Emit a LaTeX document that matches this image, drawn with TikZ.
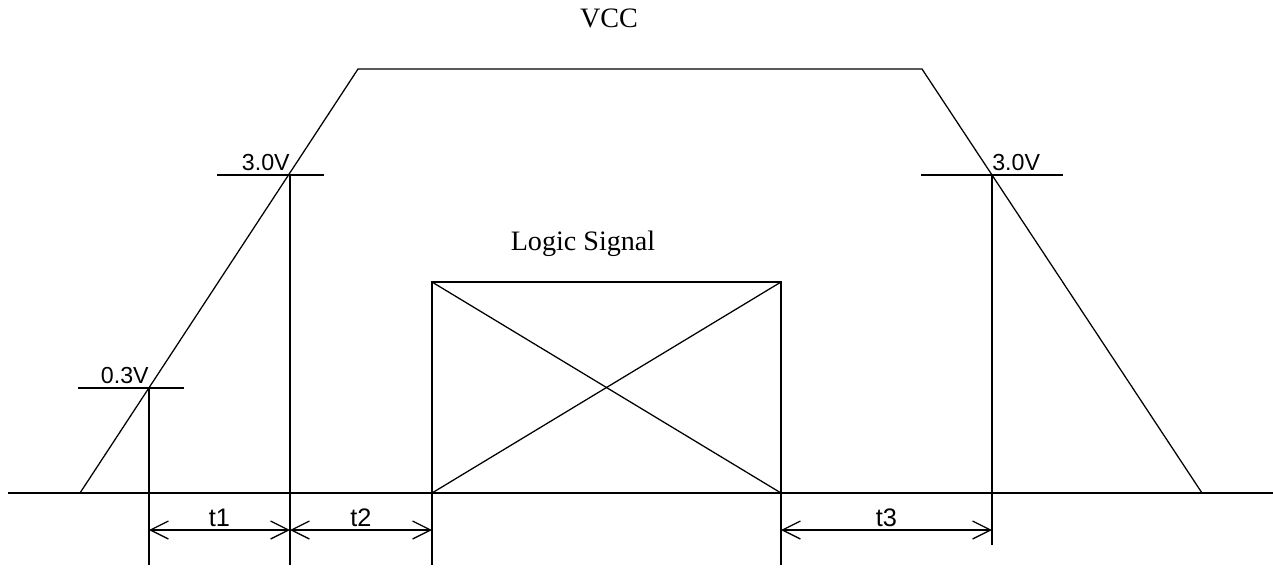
\documentclass[tikz,border=0pt]{standalone}
\usepackage{fontspec}
\setmainfont{Liberation Serif}
\newfontfamily\lblfont{Liberation Sans}
\usetikzlibrary{arrows.meta,positioning}

\begin{document}
\begin{tikzpicture}[x=0.025cm,y=-0.025cm]
\tikzset{
  wave/.style={line width=0.9pt},
  axisline/.style={line width=1.2pt},
  levelline/.style={line width=1pt},
  extline/.style={line width=1pt},
  dimarrow/.style={{Straight Barb[length=4.5mm,width=4.5mm]}-{Straight Barb[length=4.5mm,width=4.5mm]},line width=0.9pt},
  vlabel/.style={inner sep=0pt,font=\lblfont\fontsize{16.5}{19}\selectfont},
  dimlabel/.style={inner sep=2pt,above,font=\lblfont\fontsize{18}{21}\selectfont},
  title/.style={inner sep=0pt,font=\fontsize{20}{24}\selectfont}
}
\useasboundingbox (0,0) rectangle (1273,567);
% supply ramp
\coordinate (v_bl) at (80,493);
\coordinate (v_tl) at (358,69);
\coordinate (v_tr) at (922,69);
\coordinate (v_br) at (1202,493);
% threshold crossings
\coordinate (p03) at (149,388);
\coordinate (p30l) at (290,175);
\coordinate (p30r) at (992,175);
% logic signal box
\coordinate (s_bl) at (432,493);
\coordinate (s_tl) at (432,282);
\coordinate (s_tr) at (781,282);
\coordinate (s_br) at (781,493);
% baseline ends
\coordinate (g_l) at (8,493);
\coordinate (g_r) at (1273,493);

\draw[axisline] (g_l) -- (g_r);
\draw[wave] (v_bl) -- (v_tl) -- (v_tr) -- (v_br);

% threshold ticks
\coordinate (k03a) at (78,388);  \coordinate (k03b) at (184,388);
\coordinate (k30a) at (217,175); \coordinate (k30b) at (324,175);
\coordinate (k30c) at (921,175); \coordinate (k30d) at (1063,175);
\draw[levelline] (k03a) -- (k03b);
\draw[levelline] (k30a) -- (k30b);
\draw[levelline] (k30c) -- (k30d);
\node[vlabel,above left=0.1cm and 0cm of p03] (l_03) {0.3V};
\node[vlabel,above left=0.1cm and 0cm of p30l] (l_30l) {3.0V};
\node[vlabel,above right=0.1cm and 0cm of p30r] (l_30r) {3.0V};

% logic signal
\draw[levelline] (s_bl) -- (s_tl) -- (s_tr) -- (s_br);
\draw[wave] (s_bl) -- (s_tr);
\draw[wave] (s_tl) -- (s_br);
\node[title] (l_logic) at (583,244) {Logic Signal};
\node[title] (l_vcc) at (609,18) {VCC};

% extension lines
\coordinate (e1) at (149,565);
\coordinate (e2) at (290,565);
\coordinate (e3) at (432,565);
\coordinate (e4) at (781,565);
\coordinate (e5) at (992,545);
\draw[extline] (p03) -- (e1);
\draw[extline] (p30l) -- (e2);
\draw[extline] (s_bl) -- (e3);
\draw[extline] (s_br) -- (e4);
\draw[extline] (p30r) -- (e5);

% timing dimensions
\coordinate (d1) at (149,530);
\coordinate (d2) at (290,530);
\coordinate (d3) at (432,530);
\coordinate (d4) at (781,530);
\coordinate (d5) at (992,530);
\draw[dimarrow] (d1) -- node[dimlabel] (l_t1) {t1} (d2);
\draw[dimarrow] (d2) -- node[dimlabel] (l_t2) {t2} (d3);
\draw[dimarrow] (d4) -- node[dimlabel] (l_t3) {t3} (d5);
\end{tikzpicture}
\end{document}
